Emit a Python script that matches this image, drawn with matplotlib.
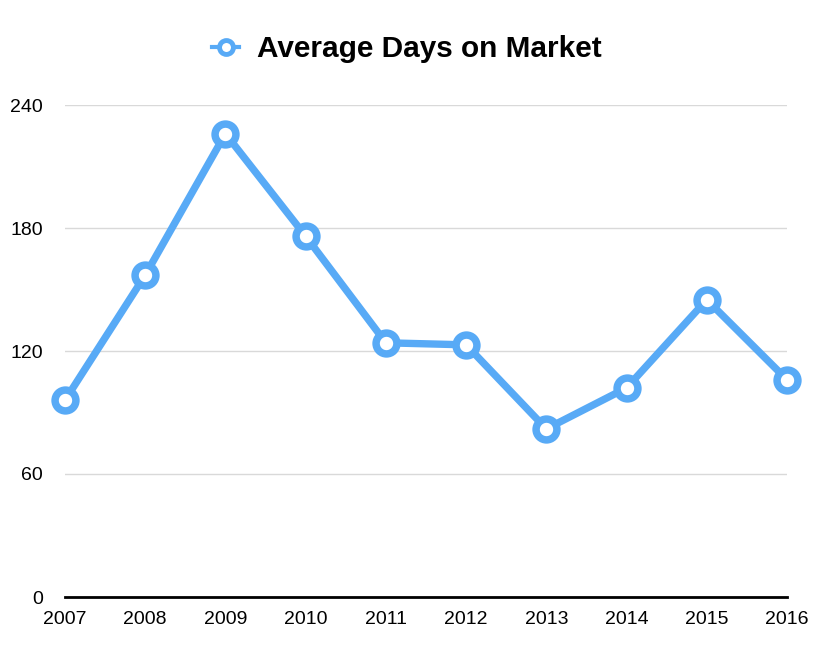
import matplotlib
matplotlib.use("Agg")
import matplotlib.pyplot as plt
from matplotlib.lines import Line2D

years = ["2007", "2008", "2009", "2010", "2011", "2012", "2013", "2014", "2015", "2016"]
days = [96, 157, 226, 176, 124, 123, 82, 102, 145, 106]
yticks = [0, 60, 120, 180, 240]
series_name = "Average Days on Market"

color = "#58aaf6"
plt.rcParams['font.family'] = ['Liberation Sans', 'DejaVu Sans']

fig = plt.figure(figsize=(8.24, 6.58), dpi=100)
ax = fig.add_axes([65/824, 61/658, (787-65)/824, (597-105)/658])

x = list(range(len(years)))
ax.plot(x, days, color=color, lw=5.3, marker='o', ms=15, mew=5.4,
        mfc='white', mec=color, clip_on=False, zorder=3, solid_joinstyle='round')

ax.set_xlim(0, len(years) - 1)
ax.set_ylim(0, 240)
ax.set_yticks(yticks)
ax.set_yticklabels([str(v) for v in yticks])
ax.set_xticks(x)
ax.set_xticklabels(years)
ax.tick_params(axis='both', length=0, labelsize=14, colors='black')
ax.tick_params(axis='y', pad=16)
ax.tick_params(axis='x', pad=10)
for lab in ax.get_yticklabels():
    lab.set_horizontalalignment('right')

ax.grid(axis='y', color='#d9d9d9', lw=1)
ax.set_axisbelow(True)
for s in ['top', 'right', 'left']:
    ax.spines[s].set_visible(False)
ax.spines['bottom'].set_linewidth(2)
ax.spines['bottom'].set_color('black')
ax.spines['bottom'].set_zorder(2)

handle = Line2D([], [], color=color, lw=3, marker='o', ms=10, mew=3.5,
                mfc='white', mec=color)
fig.legend([handle], [series_name], loc='center', bbox_to_anchor=(407/824, 1 - 49/658),
           frameon=False, prop={'weight': 'bold', 'size': 21.4}, handlelength=0.9,
           handletextpad=0.6)

fig.savefig("out.png", dpi=100)
